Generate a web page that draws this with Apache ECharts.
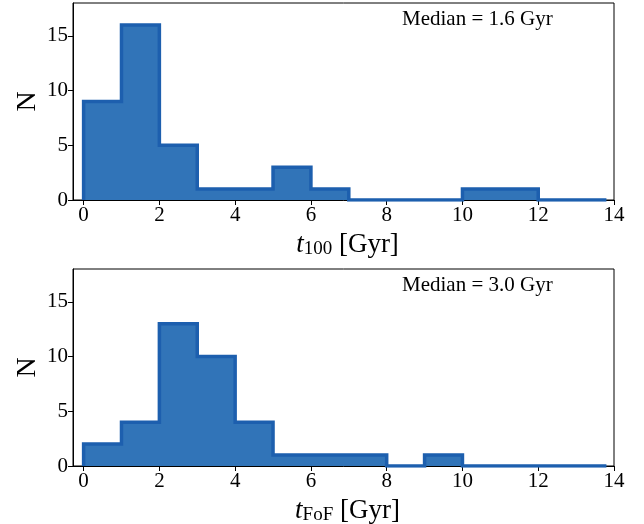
<!DOCTYPE html>
<html><head><meta charset="utf-8">
<script src="https://cdn.jsdelivr.net/npm/echarts@6/dist/echarts.min.js"></script>
<style>html,body{margin:0;padding:0;background:#fff}#c{width:644px;height:524px}</style>
</head><body><div id="c"></div>
<script>
const binEdges = [0,1,2,3,4,5,6,7,8,9,10,11,12,13,13.8];
const counts100 = [9,16,5,1,1,3,1,0,0,0,1,1,0,0];
const countsFoF = [2,4,13,10,4,1,1,1,0,1,0,0,0,0];
const xTicks = [0,2,4,6,8,10,12,14];
const yTicks = [0,5,10,15];
const medians = ['Median = 1.6 Gyr','Median = 3.0 Gyr'];
const xSubs = ['100','FoF'];

function stepData(counts){
  const d = [[binEdges[0],0]];
  for (let i=0;i<counts.length;i++) d.push([binEdges[i],counts[i]]);
  d.push([binEdges[binEdges.length-1],0]);
  return d;
}
const FONT = '"Liberation Serif","DejaVu Serif",serif';
const grids = [
  {left:73, right:30, top:3, height:197, show:true, borderColor:'#000', borderWidth:1, outerBoundsMode:'none', containLabel:false},
  {left:73, right:30, top:269, height:197, show:true, borderColor:'#000', borderWidth:1, outerBoundsMode:'none', containLabel:false}
];
const xAxes = [0,1].map(i=>({
  type:'value', gridIndex:i, min:-0.28, max:14,
  axisLine:{show:true,onZero:false,lineStyle:{color:'#000',width:1}},
  axisTick:{show:true,length:5,customValues:xTicks,lineStyle:{color:'#000'}},
  axisLabel:{customValues:xTicks,color:'#000',fontFamily:FONT,fontSize:21,margin:5},
  splitLine:{show:false},
  name:'{i|t}{s|'+xSubs[i]+'}{n| [Gyr]}', nameLocation:'middle', nameGap:31,
  nameTextStyle:{padding:[0,0,0,8],rich:{
    i:{fontFamily:FONT,fontStyle:'italic',fontSize:27,color:'#000'},
    s:{fontFamily:FONT,fontSize:19,color:'#000',verticalAlign:'bottom',padding:[9,0,0,0]},
    n:{fontFamily:FONT,fontSize:27,color:'#000'}
  }}
}));
const yAxes = [0,1].map(i=>({
  type:'value', gridIndex:i, min:0, max:18, interval:5,
  axisLine:{show:true,onZero:false,lineStyle:{color:'#000',width:1}},
  axisTick:{show:true,length:5,lineStyle:{color:'#000'}},
  axisLabel:{color:'#000',fontFamily:FONT,fontSize:21,margin:5,showMaxLabel:false},
  splitLine:{show:false},
  name:'N', nameLocation:'middle', nameGap:31, nameMoveOverlap:false,
  nameTextStyle:{fontFamily:FONT,fontSize:28,color:'#000'}
}));
const series = [counts100,countsFoF].map((c,i)=>({
  type:'line', xAxisIndex:i, yAxisIndex:i, step:'end', symbol:'none',
  data:stepData(c),
  lineStyle:{color:'#1d5fae',width:3.5,join:'miter'},
  areaStyle:{color:'#3174b8',opacity:1},
  z:2
}));
const graphics = medians.map((t,i)=>({
  type:'text', left:402, top: i===0 ? 9 : 275,
  style:{text:t, font:'21px '+FONT, fill:'#000'}
}));
const chart = echarts.init(document.getElementById('c'));
chart.setOption({
  animation:false,
  grid:grids, xAxis:xAxes, yAxis:yAxes, series:series, graphic:graphics
});
</script></body></html>
